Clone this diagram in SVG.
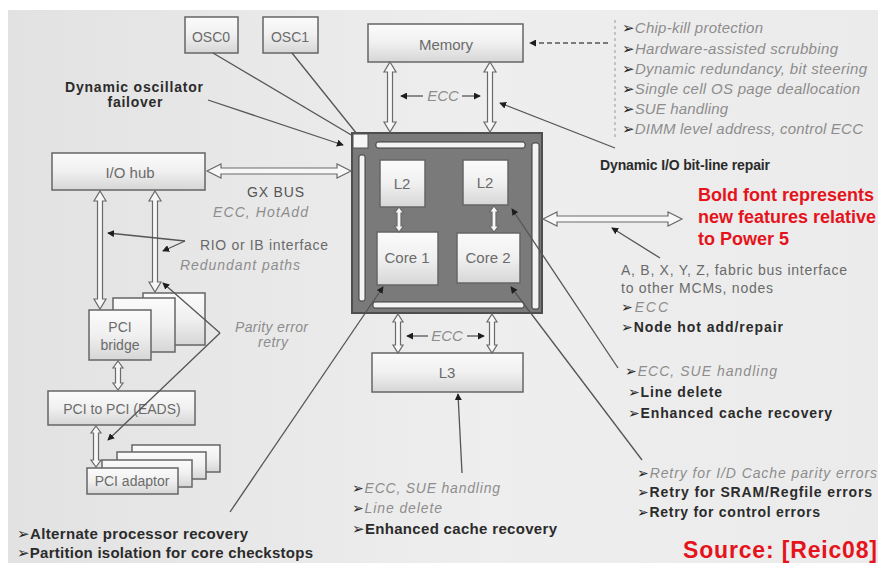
<svg xmlns="http://www.w3.org/2000/svg" width="878" height="563" viewBox="0 0 878 563">
<defs>
<linearGradient id="bg" x1="0" y1="0" x2="1" y2="0">
<stop offset="0" stop-color="#e2e2e2"/><stop offset="0.55" stop-color="#eeeeee"/><stop offset="1" stop-color="#ebebeb"/>
</linearGradient>
<linearGradient id="boxg" x1="0" y1="0" x2="0" y2="1">
<stop offset="0" stop-color="#fbfbfb"/><stop offset="0.5" stop-color="#f0f0f0"/><stop offset="1" stop-color="#d6d6d6"/>
</linearGradient>
<marker id="ah" viewBox="0 0 8 8" refX="7" refY="4" markerWidth="7" markerHeight="7" markerUnits="userSpaceOnUse" orient="auto">
<path d="M0,0 L8,4 L0,8 Z" fill="#1e1e1e"/>
</marker>
<style>
.box{fill:url(#boxg);stroke:#666;stroke-width:1.5}
.t{font-family:"Liberation Sans","DejaVu Sans",Arial,sans-serif;font-size:14px}
.lbl{fill:#6b6b6b;text-anchor:middle}
.it{font-style:italic;fill:#8d8d8d}
.bd{font-weight:bold;fill:#2b2b2b}
.rg{fill:#6a6a6a}
.red{font-weight:bold;fill:#e5131b}
.ar{font-family:"DejaVu Sans",sans-serif;font-style:normal;font-weight:bold;fill:#262626}
.dbl{fill:#f7f7f7;stroke:#6a6a6a;stroke-width:1.2}
.ln{stroke:#555;stroke-width:1.3;fill:none;marker-end:url(#ah)}
.bar{fill:#f3f3f3;stroke:#3a3a3a;stroke-width:1}
</style>
</defs>
<rect x="0" y="0" width="878" height="563" fill="#ffffff"/>
<rect x="8" y="10" width="870" height="553" fill="url(#bg)"/>

<g id="osc0"><rect class="box" x="185" y="17" width="53" height="36"/><text class="t lbl" x="211" y="42">OSC0</text></g>
<g id="osc1"><rect class="box" x="263" y="17" width="55" height="36"/><text class="t lbl" x="290" y="42">OSC1</text></g>
<g id="memory"><rect class="box" x="368" y="24" width="155" height="38"/><text class="t lbl" x="446" y="50" style="font-size:15px">Memory</text></g>
<g id="iohub"><rect class="box" x="52" y="153" width="153" height="37"/><text class="t lbl" x="130" y="178" style="font-size:15px">I/O hub</text></g>

<g id="chip">
<rect x="352" y="133" width="190" height="180" fill="#7a7a7a" stroke="#4e4e4e" stroke-width="2"/>
<rect x="353" y="134" width="15" height="14" fill="#f6f6f6" stroke="#555" stroke-width="1"/>
<rect class="bar" x="376" y="142" width="149" height="6" rx="2"/>
<rect class="bar" x="359" y="155" width="6" height="146" rx="2"/>
<rect class="bar" x="532" y="143" width="7" height="166" rx="2"/>
<rect class="bar" x="373" y="302" width="151" height="6" rx="2"/>
</g>
<g id="l2a"><rect class="box" x="380" y="160" width="45" height="47" stroke="#444"/><text class="t lbl" x="402" y="189" style="font-size:15px">L2</text></g>
<g id="l2b"><rect class="box" x="463" y="160" width="45" height="45" stroke="#444"/><text class="t lbl" x="485" y="188" style="font-size:15px">L2</text></g>
<g id="core1"><rect class="box" x="377" y="232" width="61" height="53" stroke="#444"/><text class="t lbl" x="407" y="263" style="font-size:15px">Core 1</text></g>
<g id="core2"><rect class="box" x="457" y="233" width="63" height="50" stroke="#444"/><text class="t lbl" x="488" y="263" style="font-size:15px">Core 2</text></g>
<g id="l3"><rect class="box" x="372" y="353" width="151" height="39"/><text class="t lbl" x="447" y="378" style="font-size:15px">L3</text></g>

<g id="pcibridge">
<rect class="box" x="143" y="293" width="62" height="52"/>
<rect class="box" x="113" y="298" width="62" height="54"/>
<rect class="box" x="89" y="310" width="62" height="50"/>
<text class="t lbl" x="120" y="332">PCI</text>
<text class="t lbl" x="120" y="350">bridge</text>
</g>
<g id="eads"><rect class="box" x="48" y="391" width="147" height="34"/><text class="t lbl" x="122" y="414">PCI to PCI (EADS)</text></g>
<g id="pciadaptor">
<rect class="box" x="132" y="445" width="88" height="27"/>
<rect class="box" x="117" y="452" width="89" height="27"/>
<rect class="box" x="102" y="460" width="90" height="27"/>
<rect class="box" x="87" y="468" width="91" height="26"/>
<text class="t lbl" x="132" y="486">PCI adaptor</text>
</g>

<g id="connectors">
<path class="dbl" d="M390,62 L396,72 L392.5,72 L392.5,122 L396,122 L390,132 L384,122 L387.5,122 L387.5,72 L384,72 Z"/>
<path class="dbl" d="M490,62 L496,72 L492.5,72 L492.5,122 L496,122 L490,132 L484,122 L487.5,122 L487.5,72 L484,72 Z"/>
<path class="dbl" d="M100,191 L106,201 L102.5,201 L102.5,299 L106,299 L100,309 L94,299 L97.5,299 L97.5,201 L94,201 Z"/>
<path class="dbl" d="M155,191 L161,201 L157.5,201 L157.5,282 L161,282 L155,292 L149,282 L152.5,282 L152.5,201 L149,201 Z"/>
<path class="dbl" d="M399,207 L403.5,213 L401,213 L401,226 L403.5,226 L399,232 L394.5,226 L397,226 L397,213 L394.5,213 Z"/>
<path class="dbl" d="M494,206 L498.5,212 L496,212 L496,226 L498.5,226 L494,232 L489.5,226 L492,226 L492,212 L489.5,212 Z"/>
<path class="dbl" d="M398,314 L403,322 L400.5,322 L400.5,345 L403,345 L398,353 L393,345 L395.5,345 L395.5,322 L393,322 Z"/>
<path class="dbl" d="M492,314 L497,322 L494.5,322 L494.5,345 L497,345 L492,353 L487,345 L489.5,345 L489.5,322 L487,322 Z"/>
<path class="dbl" d="M118,361 L123,368 L120.5,368 L120.5,383 L123,383 L118,390 L113,383 L115.5,383 L115.5,368 L113,368 Z"/>
<path class="dbl" d="M96,426 L101,433 L98.5,433 L98.5,460 L101,460 L96,467 L91,460 L93.5,460 L93.5,433 L91,433 Z"/>
<path class="dbl" d="M207,171 L221,164 L221,168 L337,168 L337,164 L351,171 L337,178 L337,174 L221,174 L221,178 Z"/>
<path class="dbl" d="M543,219 L557,212 L557,216 L668,216 L668,212 L682,219 L668,226 L668,222 L557,222 L557,226 Z"/>

<line x1="213" y1="53" x2="353" y2="136" stroke="#555" stroke-width="1.3"/>
<line x1="292" y1="53" x2="357" y2="134" stroke="#555" stroke-width="1.3"/>
<path class="ln" d="M208,100 L343,145"/>
<path class="ln" d="M608,43 L530,43" stroke-dasharray="5,3" stroke="#888"/>
<line x1="615" y1="20" x2="615" y2="137" stroke="#999" stroke-width="1" stroke-dasharray="3,3"/>
<path class="ln" d="M615,148 L500,103"/>
<path class="ln" d="M185,241 L108,233"/>
<path class="ln" d="M185,241 L163,251"/>
<path class="ln" d="M220,333 L163,283"/>
<path class="ln" d="M220,333 L108,440"/>
<path class="ln" d="M230,512 L383,287"/>
<path class="ln" d="M462,473 L458,394"/>
<path class="ln" d="M618,368 L512,209"/>
<path class="ln" d="M642,460 L511,287"/>
<path class="ln" d="M660,258 L612,228"/>
<path class="ln" d="M423,96 L401,96"/>
<path class="ln" d="M462,96 L480,96"/>
<path class="ln" d="M428,336 L407,336"/>
<path class="ln" d="M467,336 L484,336"/>
</g>

<g id="labels">
<text class="t it" x="443" y="101" text-anchor="middle" style="font-size:15px">ECC</text>
<text class="t it" x="447" y="341" text-anchor="middle" style="font-size:15px">ECC</text>
<text class="t bd" x="134" y="92" text-anchor="middle" textLength="138">Dynamic oscillator</text>
<text class="t bd" x="135" y="107" text-anchor="middle" textLength="55">failover</text>
<text class="t" x="247" y="197" fill="#555" textLength="57">GX BUS</text>
<text class="t it" x="213" y="217" textLength="95">ECC, HotAdd</text>
<text class="t rg" x="200" y="250" textLength="128">RIO or IB interface</text>
<text class="t it" x="180" y="270" textLength="120">Redundant paths</text>
<text class="t it" x="235" y="332" textLength="73">Parity error</text>
<text class="t it" x="258" y="347" textLength="30">retry</text>

<text class="t it" x="622" y="33" style="font-size:15px" textLength="141"><tspan class="ar">➢</tspan>Chip-kill protection</text>
<text class="t it" x="622" y="54" style="font-size:15px" textLength="216"><tspan class="ar">➢</tspan>Hardware-assisted scrubbing</text>
<text class="t it" x="622" y="74" style="font-size:15px" textLength="245"><tspan class="ar">➢</tspan>Dynamic redundancy, bit steering</text>
<text class="t it" x="622" y="94" style="font-size:15px" textLength="238"><tspan class="ar">➢</tspan>Single cell OS page deallocation</text>
<text class="t it" x="622" y="114" style="font-size:15px" textLength="106"><tspan class="ar">➢</tspan>SUE handling</text>
<text class="t it" x="622" y="134" style="font-size:15px" textLength="241"><tspan class="ar">➢</tspan>DIMM level address, control ECC</text>
<text class="t bd" x="600" y="170" textLength="170">Dynamic I/O bit-line repair</text>

<text class="t red" x="698" y="201" style="font-size:18px">Bold font represents</text>
<text class="t red" x="698" y="223" style="font-size:18px">new features relative</text>
<text class="t red" x="698" y="245" style="font-size:18px">to Power 5</text>

<text class="t rg" x="621" y="275" textLength="226">A, B, X, Y, Z, fabric bus interface</text>
<text class="t rg" x="621" y="293" textLength="152">to other MCMs, nodes</text>
<text class="t it" x="621" y="312" textLength="47"><tspan class="ar">➢</tspan>ECC</text>
<text class="t bd" x="621" y="332" textLength="162"><tspan class="ar">➢</tspan>Node hot add/repair</text>
<text class="t it" x="625" y="376" textLength="152"><tspan class="ar">➢</tspan>ECC, SUE handling</text>
<text class="t bd" x="628" y="397" textLength="94"><tspan class="ar">➢</tspan>Line delete</text>
<text class="t bd" x="628" y="418" textLength="204"><tspan class="ar">➢</tspan>Enhanced cache recovery</text>
<text class="t it" x="637" y="478" textLength="240"><tspan class="ar">➢</tspan>Retry for I/D Cache parity errors</text>
<text class="t bd" x="637" y="497" textLength="235"><tspan class="ar">➢</tspan>Retry for SRAM/Regfile errors</text>
<text class="t bd" x="637" y="517" textLength="183"><tspan class="ar">➢</tspan>Retry for control errors</text>

<text class="t it" x="352" y="493" textLength="148"><tspan class="ar">➢</tspan>ECC, SUE handling</text>
<text class="t it" x="352" y="513" textLength="90"><tspan class="ar">➢</tspan>Line delete</text>
<text class="t bd" x="352" y="534" style="font-size:15px" textLength="205"><tspan class="ar">➢</tspan>Enhanced cache recovery</text>

<text class="t bd" x="17" y="539" style="font-size:15px" textLength="231"><tspan class="ar">➢</tspan>Alternate processor recovery</text>
<text class="t bd" x="17" y="558" style="font-size:15px" textLength="296"><tspan class="ar">➢</tspan>Partition isolation for core checkstops</text>

<text class="t red" x="683" y="558" style="font-size:23px" textLength="194">Source: [Reic08]</text>
</g>
</svg>
